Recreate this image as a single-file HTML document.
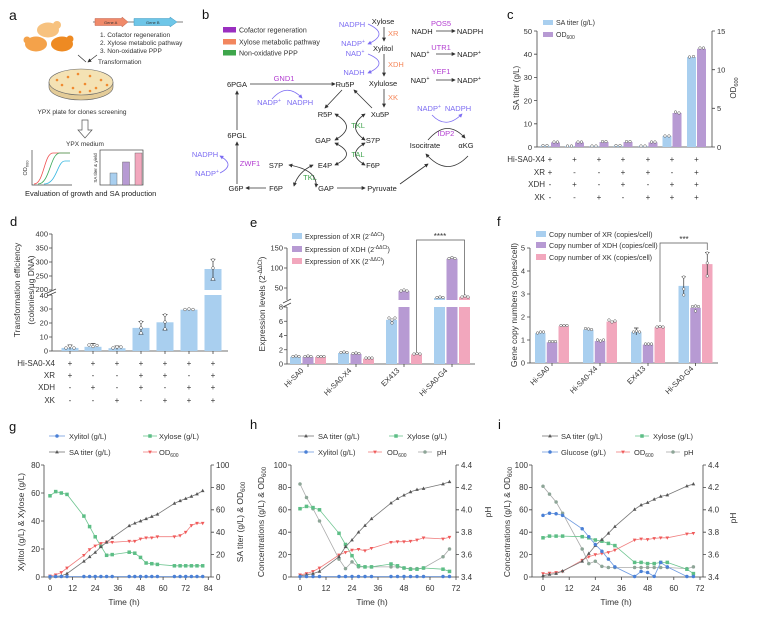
<!DOCTYPE html>
<html><head><meta charset="utf-8"><style>
html,body{margin:0;padding:0;background:#fff;}
svg{display:block;font-family:"Liberation Sans",Arial,sans-serif;}
</style></head><body>
<svg width="758" height="622" viewBox="0 0 758 622" xmlns="http://www.w3.org/2000/svg">
<defs>
<marker id="ah" viewBox="0 0 6 6" refX="5" refY="3" markerWidth="4" markerHeight="4" markerUnits="userSpaceOnUse" orient="auto-start-reverse"><path d="M0,0L6,3L0,6Z" fill="#333"/></marker>
<marker id="ahb" viewBox="0 0 6 6" refX="5" refY="3" markerWidth="4" markerHeight="4" markerUnits="userSpaceOnUse" orient="auto"><path d="M0,0L6,3L0,6Z" fill="#7c6cf2"/></marker>
<marker id="mTri" viewBox="-3 -3 6 6" markerWidth="5" markerHeight="5" markerUnits="userSpaceOnUse"><path d="M0,-2.4L2.2,1.6L-2.2,1.6Z" fill="#555"/></marker>
<marker id="mSq" viewBox="-3 -3 6 6" markerWidth="5" markerHeight="5" markerUnits="userSpaceOnUse"><rect x="-2.1" y="-2.1" width="4.2" height="4.2" fill="#5dbe86"/></marker>
<marker id="mCi" viewBox="-3 -3 6 6" markerWidth="5" markerHeight="5" markerUnits="userSpaceOnUse"><circle r="2.1" fill="#4a80d6"/></marker>
<marker id="mIt" viewBox="-3 -3 6 6" markerWidth="5" markerHeight="5" markerUnits="userSpaceOnUse"><path d="M0,2.4L2.2,-1.6L-2.2,-1.6Z" fill="#f05a5a"/></marker>
<marker id="mPh" viewBox="-3 -3 6 6" markerWidth="5" markerHeight="5" markerUnits="userSpaceOnUse"><circle r="2.1" fill="#8da597"/></marker>
</defs>

<!-- ================= PANEL A ================= -->
<text x="9" y="20" font-size="14" fill="#111">a</text>
<line x1="93" y1="22" x2="183" y2="22" stroke="#555" stroke-width="0.8"/>
<path d="M95,18.5H122V17L128,22L122,27V25.5H95Z" fill="#f08a6a" stroke="#c0604a" stroke-width="0.5"/>
<path d="M134,18.5H170V17L177,22L170,27V25.5H134Z" fill="#6ec6e8" stroke="#3d98c0" stroke-width="0.5"/>
<text x="104" y="24" font-size="4" fill="#333">Gene A</text>
<text x="146" y="24" font-size="4" fill="#333">Gene B</text>
<g font-size="6.5" fill="#333">
<text x="100" y="37">1. Cofactor regeneration</text>
<text x="100" y="45">2. Xylose metabolic pathway</text>
<text x="100" y="53">3. Non-oxidative PPP</text>
<text x="98" y="64">Transformation</text>
</g>
<ellipse cx="48" cy="30" rx="11" ry="7.5" fill="#f7c27f"/>
<circle cx="57" cy="25" r="4" fill="#f7c27f"/>
<ellipse cx="36" cy="44" rx="11" ry="7.5" fill="#f4a24a"/>
<circle cx="27" cy="40" r="3.5" fill="#f4a24a"/>
<ellipse cx="62" cy="44" rx="11" ry="7.5" fill="#ee8a22"/>
<circle cx="70" cy="39" r="3.5" fill="#ee8a22"/>
<path d="M78,55L86,62M97,55L88,62" stroke="#333" stroke-width="0.7" marker-end="url(#ah)"/>
<path d="M49,82v5a32,13 0 0,0 64,0v-5" fill="#e4cc98" stroke="#666" stroke-width="0.6"/>
<ellipse cx="81" cy="82" rx="32" ry="13" fill="#f4e2b4" stroke="#666" stroke-width="0.6"/>
<g fill="#f08a30">
<circle cx="68" cy="77" r="1.3"/><circle cx="78" cy="74" r="1.3"/><circle cx="90" cy="76" r="1.3"/><circle cx="101" cy="80" r="1.3"/><circle cx="62" cy="85" r="1.3"/><circle cx="73" cy="88" r="1.3"/><circle cx="85" cy="84" r="1.3"/><circle cx="96" cy="88" r="1.3"/><circle cx="80" cy="92" r="1.3"/><circle cx="107" cy="85" r="1.3"/><circle cx="57" cy="80" r="1.3"/><circle cx="90" cy="91" r="1.3"/>
</g>
<text x="82" y="114" font-size="6.5" fill="#333" text-anchor="middle">YPX plate for clones screening</text>
<path d="M82,120H88V130H92L85,138L78,130H82Z" fill="#fff" stroke="#555" stroke-width="0.7"/>
<text x="85" y="146" font-size="6.5" fill="#333" text-anchor="middle">YPX medium</text>
<path d="M32,150V185H72" fill="none" stroke="#444" stroke-width="0.7"/>
<path d="M34,184C44,184 44,153 53,153H70" fill="none" stroke="#f05050" stroke-width="0.8"/>
<path d="M38,184C50,184 50,153 60,153H70" fill="none" stroke="#3caa5a" stroke-width="0.8"/>
<path d="M44,184C57,184 57,161 65,161H70" fill="none" stroke="#35b6e0" stroke-width="0.8"/>
<text transform="translate(27,168) rotate(-90)" font-size="5.5" fill="#333" text-anchor="middle">OD<tspan font-size="4" dy="1.5">600</tspan></text>
<rect x="100" y="150" width="43" height="35" fill="none" stroke="#444" stroke-width="0.7"/>
<rect x="110" y="173" width="7" height="12" fill="#a9cfef" stroke="#555" stroke-width="0.4"/>
<rect x="122.5" y="162" width="7" height="23" fill="#b79ad3" stroke="#555" stroke-width="0.4"/>
<rect x="135" y="153" width="7" height="32" fill="#f2a7bd" stroke="#555" stroke-width="0.4"/>
<text transform="translate(97,168) rotate(-90)" font-size="4.5" fill="#333" text-anchor="middle">SA titer &amp; yield</text>
<text x="25" y="196" font-size="7.5" fill="#222">Evaluation of growth and SA production</text>

<!-- ================= PANEL B ================= -->
<text x="202" y="19" font-size="13" fill="#111">b</text>
<rect x="223" y="27" width="13" height="5.5" fill="#9a2fc0"/>
<rect x="223" y="39" width="13" height="5.5" fill="#f2865e"/>
<rect x="223" y="50" width="13" height="5.5" fill="#3ea64b"/>
<g font-size="7" fill="#333">
<text x="239" y="32.5">Cofactor regeneration</text>
<text x="239" y="44.5">Xylose metabolic pathway</text>
<text x="239" y="55.5">Non-oxidative PPP</text>
</g>
<g font-size="7.5" fill="#222" text-anchor="middle">
<text x="383" y="24">Xylose</text>
<text x="383" y="51">Xylitol</text>
<text x="383" y="86">Xylulose</text>
<text x="380" y="117">Xu5P</text>
<text x="345" y="87">Ru5P</text>
<text x="237" y="87">6PGA</text>
<text x="325" y="117">R5P</text>
<text x="323" y="143">GAP</text>
<text x="373" y="143">S7P</text>
<text x="325" y="168">E4P</text>
<text x="373" y="168">F6P</text>
<text x="276" y="168">S7P</text>
<text x="276" y="191">F6P</text>
<text x="236" y="191">G6P</text>
<text x="326" y="191">GAP</text>
<text x="382" y="191">Pyruvate</text>
<text x="237" y="138">6PGL</text>
<text x="425" y="148">Isocitrate</text>
<text x="466" y="148">αKG</text>
<text x="422" y="34">NADH</text>
<text x="470" y="34">NADPH</text>
<text x="420" y="57">NAD<tspan font-size="5" dy="-3">+</tspan></text>
<text x="469" y="57">NADP<tspan font-size="5" dy="-3">+</tspan></text>
<text x="420" y="83">NAD<tspan font-size="5" dy="-3">+</tspan></text>
<text x="469" y="83">NADP<tspan font-size="5" dy="-3">+</tspan></text>
</g>
<g font-size="7.5" fill="#7c6cf2" text-anchor="middle">
<text x="352" y="27">NADPH</text>
<text x="353" y="46">NADP<tspan font-size="5" dy="-3">+</tspan></text>
<text x="355" y="56">NAD<tspan font-size="5" dy="-3">+</tspan></text>
<text x="354" y="75">NADH</text>
<text x="269" y="105">NADP<tspan font-size="5" dy="-3">+</tspan></text>
<text x="300" y="105">NADPH</text>
<text x="205" y="157">NADPH</text>
<text x="207" y="176">NADP<tspan font-size="5" dy="-3">+</tspan></text>
<text x="429" y="111">NADP<tspan font-size="5" dy="-3">+</tspan></text>
<text x="458" y="111">NADPH</text>
</g>
<g font-size="7.5" fill="#f5875a">
<text x="388" y="36">XR</text>
<text x="388" y="67">XDH</text>
<text x="388" y="100">XK</text>
</g>
<g font-size="7.5" fill="#b23cd0" text-anchor="middle">
<text x="441" y="26">POS5</text>
<text x="441" y="50">UTR1</text>
<text x="441" y="74">YEF1</text>
<text x="284" y="81">GND1</text>
<text x="250" y="166">ZWF1</text>
<text x="446" y="136">IDP2</text>
</g>
<g font-size="7.5" fill="#3fa34d" text-anchor="middle">
<text x="358" y="128">TKL</text>
<text x="358" y="157">TAL</text>
<text x="310" y="180">TKL</text>
</g>
<g stroke="#333" stroke-width="0.8" fill="none" marker-end="url(#ah)">
<path d="M384,27V41"/><path d="M384,54V76"/><path d="M384,89V107"/>
<path d="M436,31H455"/><path d="M436,54H455"/><path d="M436,80H455"/>
<path d="M250,84H335"/>
<path d="M342,90L325,108"/><path d="M372,108L354,90"/>
<path d="M237,184V142"/><path d="M237,130V91"/>
<path d="M266,188H246"/><path d="M337,188H365"/>
<path d="M400,184L428,164"/>
<path d="M428,140Q447,118 465,138"/>
<path d="M468,156Q447,178 426,154"/>
</g>
<g stroke="#333" stroke-width="0.8" fill="none" marker-start="url(#ah)" marker-end="url(#ah)">
<path d="M335,114Q358,127 335,140"/>
<path d="M365,114Q346,127 365,140"/>
<path d="M335,143Q358,154 335,165"/>
<path d="M365,143Q346,154 365,165"/>
<path d="M289,165Q318,170 316,187"/>
<path d="M313,165Q298,172 294,186"/>
</g>
<g stroke="#7c6cf2" stroke-width="0.8" fill="none" marker-end="url(#ahb)">
<path d="M368,24Q390,34 368,44"/>
<path d="M368,54Q390,63 368,73"/>
<path d="M272,99Q287,82 302,98"/>
<path d="M220,173Q236,165 220,156"/>
<path d="M432,115Q446,130 462,114"/>
</g>

<!-- ================= PANEL C ================= -->
<text x="507" y="19" font-size="13" fill="#111">c</text>
<rect x="543" y="20" width="10" height="5" fill="#a9cfef"/>
<rect x="543" y="32" width="10" height="5" fill="#b79ad3"/>
<text x="556" y="25" font-size="7" fill="#333">SA titer (g/L)</text>
<text x="556" y="37" font-size="7" fill="#333">OD<tspan font-size="5" dy="2">600</tspan></text>
<g stroke="#444" stroke-width="0.8" fill="none">
<path d="M537,31V147H712V31"/>
<path d="M534,147H537M534,123.8H537M534,100.6H537M534,77.4H537M534,54.2H537M534,31H537"/>
<path d="M712,147H715M712,108.3H715M712,69.7H715M712,31H715"/>
</g>
<g font-size="7.5" fill="#333" text-anchor="end">
<text x="532" y="150">0</text><text x="532" y="126.5">10</text><text x="532" y="103.3">20</text><text x="532" y="80">30</text><text x="532" y="57">40</text><text x="532" y="34">50</text>
</g>
<g font-size="7.5" fill="#333">
<text x="717" y="150">0</text><text x="717" y="111">5</text><text x="717" y="72.5">10</text><text x="717" y="34">15</text>
</g>
<text transform="translate(519,88) rotate(-90)" font-size="8" fill="#333" text-anchor="middle">SA titer (g/L)</text>
<text transform="translate(736,88) rotate(-90)" font-size="8" fill="#333" text-anchor="middle">OD<tspan font-size="5.5" dy="2">600</tspan></text>
<g fill="#a9cfef">
<rect x="540.5" y="145.8" width="9" height="1.2"/><rect x="565" y="146.1" width="9" height="0.9"/><rect x="589.5" y="146.1" width="9" height="0.9"/><rect x="613.5" y="145.8" width="9" height="1.2"/><rect x="638.5" y="146.1" width="9" height="0.9"/><rect x="662.5" y="136.1" width="9" height="10.9"/><rect x="687" y="57" width="9" height="90"/>
</g>
<g fill="#b79ad3">
<rect x="551" y="142.4" width="9" height="4.6"/><rect x="575" y="142.4" width="9" height="4.6"/><rect x="599.5" y="142" width="9" height="5"/><rect x="623.5" y="142" width="9" height="5"/><rect x="648.5" y="142.4" width="9" height="4.6"/><rect x="672.5" y="113" width="9" height="34"/><rect x="697" y="48.8" width="9" height="98.2"/>
</g>
<g fill="#fff" stroke="#555" stroke-width="0.5">
<circle cx="543" cy="145.5" r="1.3"/><circle cx="547" cy="145.5" r="1.3"/><circle cx="554" cy="142" r="1.3"/><circle cx="557.5" cy="142" r="1.3"/>
<circle cx="567.5" cy="146" r="1.3"/><circle cx="571.5" cy="146" r="1.3"/><circle cx="578" cy="142" r="1.3"/><circle cx="581.5" cy="142" r="1.3"/>
<circle cx="592" cy="146" r="1.3"/><circle cx="596" cy="146" r="1.3"/><circle cx="602.5" cy="141.5" r="1.3"/><circle cx="606" cy="141.5" r="1.3"/>
<circle cx="616" cy="145.5" r="1.3"/><circle cx="620" cy="145.5" r="1.3"/><circle cx="626.5" cy="141.5" r="1.3"/><circle cx="630" cy="141.5" r="1.3"/>
<circle cx="641" cy="146" r="1.3"/><circle cx="645" cy="146" r="1.3"/><circle cx="651.5" cy="142" r="1.3"/><circle cx="655" cy="142" r="1.3"/>
<circle cx="665" cy="136" r="1.3"/><circle cx="669" cy="136" r="1.3"/><circle cx="675.5" cy="112" r="1.3"/><circle cx="679" cy="113" r="1.3"/>
<circle cx="689.5" cy="57" r="1.3"/><circle cx="693.5" cy="56.5" r="1.3"/><circle cx="700" cy="48" r="1.3"/><circle cx="703.5" cy="48" r="1.3"/>
</g>
<g font-size="8" fill="#333" text-anchor="end">
<text x="545" y="162">Hi-SA0-X4</text><text x="545" y="175">XR</text><text x="545" y="187">XDH</text><text x="545" y="200">XK</text>
</g>
<g font-size="8" fill="#333" text-anchor="middle">
<text x="550" y="162">+</text><text x="574.5" y="162">+</text><text x="599" y="162">+</text><text x="623" y="162">+</text><text x="648" y="162">+</text><text x="672" y="162">+</text><text x="696.5" y="162">+</text>
<text x="550" y="175">+</text><text x="574.5" y="175">-</text><text x="599" y="175">-</text><text x="623" y="175">+</text><text x="648" y="175">+</text><text x="672" y="175">-</text><text x="696.5" y="175">+</text>
<text x="550" y="187">-</text><text x="574.5" y="187">+</text><text x="599" y="187">-</text><text x="623" y="187">+</text><text x="648" y="187">-</text><text x="672" y="187">+</text><text x="696.5" y="187">+</text>
<text x="550" y="200">-</text><text x="574.5" y="200">-</text><text x="599" y="200">+</text><text x="623" y="200">-</text><text x="648" y="200">+</text><text x="672" y="200">+</text><text x="696.5" y="200">+</text>
</g>

<!-- ================= PANEL D ================= -->
<text x="10" y="226" font-size="13" fill="#111">d</text>
<g stroke="#444" stroke-width="0.8" fill="none">
<path d="M52,234V290"/><path d="M52,295V351H228"/>
<path d="M49,234H52M49,248H52M49,262H52M49,276H52M49,290H52"/>
<path d="M49,295H52M49,309H52M49,323H52M49,337H52M49,351H52"/>
<path d="M70,351v3M93,351v3M117,351v3M141,351v3M165,351v3M189,351v3M213,351v3"/>
</g>
<g font-size="7.5" fill="#333" text-anchor="end">
<text x="48" y="236.5">400</text><text x="48" y="250.5">350</text><text x="48" y="264.5">300</text><text x="48" y="278.5">250</text><text x="48" y="292">200</text>
<text x="48" y="298">40</text><text x="48" y="311.5">30</text><text x="48" y="325.5">20</text><text x="48" y="339.5">10</text><text x="48" y="353.5">0</text>
</g>
<path d="M47,293L56,289M47,296L56,292" stroke="#444" stroke-width="0.8"/>
<text transform="translate(20,290) rotate(-90)" font-size="8.5" fill="#333" text-anchor="middle">Transformation efficiency</text>
<text transform="translate(34,290) rotate(-90)" font-size="8.5" fill="#333" text-anchor="middle">(colonies/μg DNA)</text>
<g fill="#a9cfef">
<rect x="61.5" y="347.9" width="17" height="3.1"/><rect x="84.5" y="346.8" width="17" height="4.2"/><rect x="108.5" y="348.2" width="17" height="2.8"/><rect x="132.5" y="327.9" width="17" height="23.1"/><rect x="156.5" y="322.3" width="17" height="28.7"/><rect x="180.5" y="309.7" width="17" height="41.3"/><rect x="204.5" y="295" width="17" height="56"/><rect x="204.5" y="269" width="17" height="21"/>
</g>
<g stroke="#333" stroke-width="0.7" fill="none">
<path d="M141,334.2V321.6M138.5,321.6h5M138.5,334.2h5"/>
<path d="M165,330V314.6M162.5,314.6h5M162.5,330h5"/>
<path d="M213,280.2V259.2M210.5,259.2h5M210.5,280.2h5"/>
<path d="M70,349.5V345M67.5,345h5"/><path d="M93,348V343.5M90.5,343.5h5"/><path d="M117,349.5V346M114.5,346h5"/>
</g>
<g fill="#fff" stroke="#555" stroke-width="0.5">
<circle cx="66" cy="348" r="1.4"/><circle cx="70" cy="346" r="1.4"/><circle cx="74" cy="348" r="1.4"/>
<circle cx="89" cy="345" r="1.4"/><circle cx="93" cy="346.5" r="1.4"/><circle cx="97" cy="345.5" r="1.4"/>
<circle cx="113" cy="348" r="1.4"/><circle cx="117" cy="347" r="1.4"/><circle cx="121" cy="347" r="1.4"/>
<circle cx="141" cy="322" r="1.4"/><circle cx="141" cy="328" r="1.4"/><circle cx="141" cy="333" r="1.4"/>
<circle cx="165" cy="315" r="1.4"/><circle cx="165" cy="322" r="1.4"/><circle cx="165" cy="329" r="1.4"/>
<circle cx="185" cy="309.5" r="1.4"/><circle cx="189" cy="309" r="1.4"/><circle cx="193" cy="309.5" r="1.4"/>
<circle cx="213" cy="260" r="1.4"/><circle cx="213" cy="268" r="1.4"/><circle cx="213" cy="279" r="1.4"/>
</g>
<g font-size="8" fill="#333" text-anchor="end">
<text x="55" y="366">Hi-SA0-X4</text><text x="55" y="378">XR</text><text x="55" y="390">XDH</text><text x="55" y="403">XK</text>
</g>
<g font-size="8" fill="#333" text-anchor="middle">
<text x="70" y="366">+</text><text x="93" y="366">+</text><text x="117" y="366">+</text><text x="141" y="366">+</text><text x="165" y="366">+</text><text x="189" y="366">+</text><text x="213" y="366">+</text>
<text x="70" y="378">+</text><text x="93" y="378">-</text><text x="117" y="378">-</text><text x="141" y="378">+</text><text x="165" y="378">+</text><text x="189" y="378">-</text><text x="213" y="378">+</text>
<text x="70" y="390">-</text><text x="93" y="390">+</text><text x="117" y="390">-</text><text x="141" y="390">+</text><text x="165" y="390">-</text><text x="189" y="390">+</text><text x="213" y="390">+</text>
<text x="70" y="403">-</text><text x="93" y="403">-</text><text x="117" y="403">+</text><text x="141" y="403">-</text><text x="165" y="403">+</text><text x="189" y="403">+</text><text x="213" y="403">+</text>
</g>

<!-- ================= PANEL E ================= -->
<text x="250" y="227" font-size="13" fill="#111">e</text>
<rect x="292" y="233" width="10" height="6" fill="#a9cfef"/>
<rect x="292" y="246" width="10" height="6" fill="#b79ad3"/>
<rect x="292" y="258" width="10" height="6" fill="#f2a7bd"/>
<g font-size="7.2" fill="#333">
<text x="305" y="239">Expression of XR (2<tspan font-size="5" dy="-3">-ΔΔCt</tspan><tspan dy="3">)</tspan></text>
<text x="305" y="252">Expression of XDH (2<tspan font-size="5" dy="-3">-ΔΔCt</tspan><tspan dy="3">)</tspan></text>
<text x="305" y="264">Expression of XK (2<tspan font-size="5" dy="-3">-ΔΔCt</tspan><tspan dy="3">)</tspan></text>
</g>
<g stroke="#444" stroke-width="0.8" fill="none">
<path d="M287,248V300"/><path d="M287,307V364H475"/>
<path d="M284,248H287M284,268H287M284,288H287"/>
<path d="M284,307H287M284,321.25H287M284,335.5H287M284,349.75H287M284,364H287"/>
<path d="M308,364v3M356,364v3M404,364v3M452,364v3"/>
</g>
<path d="M283,303L291,299M283,307L291,303" stroke="#444" stroke-width="0.8"/>
<g font-size="7.5" fill="#333" text-anchor="end">
<text x="283" y="250.5">150</text><text x="283" y="270.5">100</text><text x="283" y="290.5">50</text>
<text x="283" y="309.5">8</text><text x="283" y="324">6</text><text x="283" y="338">4</text><text x="283" y="352.5">2</text><text x="283" y="366.5">0</text>
</g>
<text transform="translate(265,304) rotate(-90)" font-size="8.5" fill="#333" text-anchor="middle">Expression levels (2<tspan font-size="6" dy="-3">-ΔΔCt</tspan><tspan dy="3">)</tspan></text>
<g fill="#a9cfef">
<rect x="290" y="356.9" width="11" height="7.1"/><rect x="338" y="353" width="11" height="11"/><rect x="386" y="319.8" width="11" height="44.2"/><rect x="434" y="307" width="11" height="57"/><rect x="434" y="298" width="11" height="2"/>
</g>
<g fill="#b79ad3">
<rect x="302.5" y="356.9" width="11" height="7.1"/><rect x="350.5" y="354" width="11" height="10"/><rect x="398.5" y="307" width="11" height="57"/><rect x="398.5" y="291.2" width="11" height="8.8"/><rect x="446.5" y="307" width="11" height="57"/><rect x="446.5" y="258.8" width="11" height="41.2"/>
</g>
<g fill="#f2a7bd">
<rect x="315" y="356.9" width="11" height="7.1"/><rect x="363" y="358.7" width="11" height="5.3"/><rect x="411" y="354.4" width="11" height="9.6"/><rect x="459" y="307" width="11" height="57"/><rect x="459" y="297.2" width="11" height="2.8"/>
</g>
<g fill="#fff" stroke="#555" stroke-width="0.5">
<circle cx="293" cy="356.5" r="1.3"/><circle cx="296" cy="356" r="1.3"/><circle cx="299" cy="356.5" r="1.3"/>
<circle cx="305" cy="356.5" r="1.3"/><circle cx="308" cy="356" r="1.3"/><circle cx="311" cy="356.5" r="1.3"/>
<circle cx="318" cy="356.5" r="1.3"/><circle cx="321" cy="356.5" r="1.3"/><circle cx="324" cy="356.5" r="1.3"/>
<circle cx="341" cy="352.5" r="1.3"/><circle cx="344" cy="352" r="1.3"/><circle cx="347" cy="352.5" r="1.3"/>
<circle cx="353" cy="353.5" r="1.3"/><circle cx="356" cy="353" r="1.3"/><circle cx="359" cy="353.5" r="1.3"/>
<circle cx="366" cy="358" r="1.3"/><circle cx="369" cy="358" r="1.3"/><circle cx="372" cy="358" r="1.3"/>
<circle cx="389" cy="318" r="1.3"/><circle cx="392" cy="320" r="1.3"/><circle cx="395" cy="318" r="1.3"/><circle cx="392" cy="323" r="1.3"/>
<circle cx="401" cy="291" r="1.3"/><circle cx="404" cy="290" r="1.3"/><circle cx="407" cy="291" r="1.3"/>
<circle cx="414" cy="354" r="1.3"/><circle cx="417" cy="353.5" r="1.3"/><circle cx="420" cy="354" r="1.3"/>
<circle cx="437" cy="297.5" r="1.3"/><circle cx="440" cy="297" r="1.3"/><circle cx="443" cy="297.5" r="1.3"/>
<circle cx="449" cy="258.5" r="1.3"/><circle cx="452" cy="257.5" r="1.3"/><circle cx="455" cy="258.5" r="1.3"/>
<circle cx="462" cy="297" r="1.3"/><circle cx="465" cy="296" r="1.3"/><circle cx="468" cy="297" r="1.3"/>
</g>
<path d="M416.5,352V240H464.5V295" fill="none" stroke="#555" stroke-width="0.7"/>
<text x="440" y="239" font-size="8" fill="#333" text-anchor="middle">****</text>
<g font-size="7.5" fill="#333" text-anchor="end">
<text transform="translate(304,371) rotate(-45)">Hi-SA0</text>
<text transform="translate(352,371) rotate(-45)">Hi-SA0-X4</text>
<text transform="translate(400,371) rotate(-45)">EX413</text>
<text transform="translate(448,371) rotate(-45)">Hi-SA0-G4</text>
</g>

<!-- ================= PANEL F ================= -->
<text x="497" y="226" font-size="13" fill="#111">f</text>
<rect x="536" y="231" width="10" height="6" fill="#a9cfef"/>
<rect x="536" y="242" width="10" height="6" fill="#b79ad3"/>
<rect x="536" y="254" width="10" height="6" fill="#f2a7bd"/>
<g font-size="7.2" fill="#333">
<text x="549" y="237">Copy number of XR (copies/cell)</text>
<text x="549" y="248">Copy number of XDH (copies/cell)</text>
<text x="549" y="260">Copy number of XK (copies/cell)</text>
</g>
<g stroke="#444" stroke-width="0.8" fill="none">
<path d="M530,248V363H718"/>
<path d="M527,248H530M527,271H530M527,294H530M527,317H530M527,340H530M527,363H530"/>
<path d="M552,363v3M600,363v3M648,363v3M695.5,363v3"/>
</g>
<g font-size="7.5" fill="#333" text-anchor="end">
<text x="525" y="250.5">5</text><text x="525" y="273.5">4</text><text x="525" y="296.5">3</text><text x="525" y="319.5">2</text><text x="525" y="342.5">1</text><text x="525" y="365.5">0</text>
</g>
<text transform="translate(517,305) rotate(-90)" font-size="8.5" fill="#333" text-anchor="middle">Gene copy numbers (copies/cell)</text>
<g fill="#a9cfef">
<rect x="535" y="333.1" width="10.5" height="29.9"/><rect x="583" y="329.6" width="10.5" height="33.4"/><rect x="631" y="331.9" width="10.5" height="31.1"/><rect x="678.5" y="285.9" width="10.5" height="77.1"/>
</g>
<g fill="#b79ad3">
<rect x="546.75" y="342.3" width="10.5" height="20.7"/><rect x="594.75" y="341.1" width="10.5" height="21.9"/><rect x="642.75" y="344.6" width="10.5" height="18.4"/><rect x="690.25" y="307.8" width="10.5" height="55.2"/>
</g>
<g fill="#f2a7bd">
<rect x="558.5" y="326.2" width="10.5" height="36.8"/><rect x="606.5" y="321.6" width="10.5" height="41.4"/><rect x="654.5" y="327.3" width="10.5" height="35.7"/><rect x="702" y="264.1" width="10.5" height="98.9"/>
</g>
<g stroke="#333" stroke-width="0.7" fill="none">
<path d="M683.75,296.3V276.8M681.5,276.8h4.5"/>
<path d="M707.25,276.8V252.6M705,252.6h4.5"/>
<path d="M636.25,335V328M634,328h4.5"/>
</g>
<g fill="#fff" stroke="#555" stroke-width="0.5">
<circle cx="537.5" cy="333" r="1.3"/><circle cx="540.5" cy="332" r="1.3"/><circle cx="543.5" cy="332" r="1.3"/>
<circle cx="549.5" cy="341.5" r="1.3"/><circle cx="552.5" cy="341.5" r="1.3"/><circle cx="555.5" cy="341.5" r="1.3"/>
<circle cx="561" cy="325.5" r="1.3"/><circle cx="564" cy="325.5" r="1.3"/><circle cx="567" cy="325.5" r="1.3"/>
<circle cx="585.5" cy="328.5" r="1.3"/><circle cx="588.5" cy="329" r="1.3"/><circle cx="591.5" cy="329.5" r="1.3"/>
<circle cx="597.5" cy="340" r="1.3"/><circle cx="600.5" cy="341" r="1.3"/><circle cx="603.5" cy="340" r="1.3"/>
<circle cx="609" cy="320" r="1.3"/><circle cx="612" cy="322" r="1.3"/><circle cx="615" cy="321" r="1.3"/>
<circle cx="633.5" cy="332" r="1.3"/><circle cx="636.5" cy="331" r="1.3"/><circle cx="639.5" cy="332" r="1.3"/>
<circle cx="645.5" cy="344" r="1.3"/><circle cx="648.5" cy="344" r="1.3"/><circle cx="651.5" cy="344" r="1.3"/>
<circle cx="657" cy="327" r="1.3"/><circle cx="660" cy="326.5" r="1.3"/><circle cx="663" cy="327" r="1.3"/>
<circle cx="683.75" cy="277" r="1.3"/><circle cx="683.75" cy="289" r="1.3"/><circle cx="683.75" cy="295" r="1.3"/>
<circle cx="692.5" cy="306.5" r="1.3"/><circle cx="695.5" cy="306" r="1.3"/><circle cx="698.5" cy="306.5" r="1.3"/><circle cx="695.5" cy="311" r="1.3"/>
<circle cx="707.25" cy="253" r="1.3"/><circle cx="707.25" cy="263" r="1.3"/><circle cx="707.25" cy="276" r="1.3"/>
</g>
<path d="M660,322V243H707.25V250" fill="none" stroke="#555" stroke-width="0.7"/>
<text x="684" y="242" font-size="8" fill="#333" text-anchor="middle">***</text>
<g font-size="7.5" fill="#333" text-anchor="end">
<text transform="translate(550,369) rotate(-45)">Hi-SA0</text>
<text transform="translate(598,369) rotate(-45)">Hi-SA0-X4</text>
<text transform="translate(646,369) rotate(-45)">EX413</text>
<text transform="translate(694,369) rotate(-45)">Hi-SA0-G4</text>
</g>

<!-- ================= PANEL G ================= -->
<text x="9" y="431" font-size="13" fill="#111">g</text>
<g font-size="7.5" fill="#333">
<text x="69" y="439">Xylitol (g/L)</text>
<text x="159" y="439">Xylose (g/L)</text>
<text x="69" y="455">SA titer (g/L)</text>
<text x="159" y="455">OD<tspan font-size="5" dy="2">600</tspan></text>
</g>
<path d="M49,436L57,436L65,436" stroke="#6f9be0" stroke-width="0.8" fill="none" marker-mid="url(#mCi)"/>
<path d="M143,436L150,436L157,436" stroke="#6cc48f" stroke-width="0.8" fill="none" marker-mid="url(#mSq)"/>
<path d="M49,452L57,452L65,452" stroke="#777" stroke-width="0.8" fill="none" marker-mid="url(#mTri)"/>
<path d="M143,452L150,452L157,452" stroke="#f08080" stroke-width="0.8" fill="none" marker-mid="url(#mIt)"/>
<g stroke="#444" stroke-width="0.8" fill="none">
<path d="M44,465V577H211V465"/>
<path d="M41,577H44M41,549H44M41,521H44M41,493H44M41,465H44"/>
<path d="M211,577H214M211,554.6H214M211,532.2H214M211,509.8H214M211,487.4H214M211,465H214"/>
<path d="M50,577v3M72.6,577v3M95.2,577v3M117.9,577v3M140.5,577v3M163.1,577v3M185.7,577v3M208.3,577v3"/>
</g>
<g font-size="8" fill="#333" text-anchor="end">
<text x="40" y="580">0</text><text x="40" y="552">20</text><text x="40" y="524">40</text><text x="40" y="496">60</text><text x="40" y="468">80</text>
</g>
<g font-size="8" fill="#333">
<text x="216" y="580">0</text><text x="216" y="557.5">20</text><text x="216" y="535">40</text><text x="216" y="512.5">60</text><text x="216" y="490">80</text><text x="216" y="468">100</text>
</g>
<g font-size="8" fill="#333" text-anchor="middle">
<text x="50" y="591">0</text><text x="72.6" y="591">12</text><text x="95.2" y="591">24</text><text x="117.9" y="591">36</text><text x="140.5" y="591">48</text><text x="163.1" y="591">60</text><text x="185.7" y="591">72</text><text x="208.3" y="591">84</text>
<text x="124" y="605" font-size="8.5">Time (h)</text>
</g>
<text transform="translate(24,522) rotate(-90)" font-size="8.5" fill="#333" text-anchor="middle">Xylitol (g/L) &amp; Xylose (g/L)</text>
<text transform="translate(243,522) rotate(-90)" font-size="8.5" fill="#333" text-anchor="middle">SA titer (g/L) &amp; OD<tspan font-size="6" dy="2">600</tspan></text>
<polyline fill="none" stroke="#6cc48f" stroke-width="0.8" marker-start="url(#mSq)" marker-mid="url(#mSq)" marker-end="url(#mSq)" points="50,495.8 55.7,491.6 61.3,493 67,494.4 83.9,516.1 89.6,526.6 95.2,536.8 100.9,546.2 106.6,555.3 112.2,554.6 129.2,552.2 134.8,553.2 140.5,557.4 146.1,563 151.8,563.7 157.4,564.4 174.4,565.8 180.1,565.8 185.7,565.8 191.4,565.8 197,565.8 202.7,565.8"/>
<polyline fill="none" stroke="#f08080" stroke-width="0.8" marker-start="url(#mIt)" marker-mid="url(#mIt)" marker-end="url(#mIt)" points="50,575.9 55.7,574.8 61.3,572.5 67,568 83.9,555.3 89.6,549.6 95.2,545.9 100.9,543.4 106.6,542 112.2,542.3 129.2,541.2 134.8,541.2 140.5,538.9 146.1,537.8 151.8,537.8 157.4,536.7 174.4,536.7 180.1,535.6 185.7,532.2 191.4,525.5 197,523.2 202.7,523.2"/>
<polyline fill="none" stroke="#777" stroke-width="0.8" marker-start="url(#mTri)" marker-mid="url(#mTri)" marker-end="url(#mTri)" points="50,577 55.7,576.4 61.3,575.9 67,573.6 83.9,561.3 89.6,556.8 95.2,552.4 100.9,546.8 106.6,542.3 112.2,537.8 129.2,525.8 134.8,523.2 140.5,521 146.1,518.8 151.8,516.5 157.4,514.3 174.4,503.4 180.1,500.8 185.7,498.6 191.4,496.4 197,494.1 202.7,490.8"/>
<polyline fill="none" stroke="#6f9be0" stroke-width="0.8" marker-start="url(#mCi)" marker-mid="url(#mCi)" marker-end="url(#mCi)" points="50,576.5 55.7,576.5 61.3,576.5 67,576.5 83.9,576.5 89.6,576.5 95.2,576.5 100.9,576.5 106.6,576.5 112.2,576.5 129.2,576.5 134.8,576.5 140.5,576.5 146.1,576.5 151.8,576.5 157.4,576.5 174.4,576.5 180.1,576.5 185.7,576.5 191.4,576.5 197,576.5 202.7,576.5"/>

<!-- ================= PANEL H ================= -->
<text x="250" y="429" font-size="13" fill="#111">h</text>
<g font-size="7.5" fill="#333">
<text x="318" y="439">SA titer (g/L)</text>
<text x="407" y="439">Xylose (g/L)</text>
<text x="318" y="455">Xylitol (g/L)</text>
<text x="387" y="455">OD<tspan font-size="5" dy="2">600</tspan></text>
<text x="437" y="455">pH</text>
</g>
<path d="M298,436L306,436L314,436" stroke="#777" stroke-width="0.8" fill="none" marker-mid="url(#mTri)"/>
<path d="M389,436L396,436L403,436" stroke="#6cc48f" stroke-width="0.8" fill="none" marker-mid="url(#mSq)"/>
<path d="M298,452L306,452L314,452" stroke="#6f9be0" stroke-width="0.8" fill="none" marker-mid="url(#mCi)"/>
<path d="M368,452L375,452L382,452" stroke="#f08080" stroke-width="0.8" fill="none" marker-mid="url(#mIt)"/>
<path d="M418,452L425,452L432,452" stroke="#aaa" stroke-width="0.8" fill="none" marker-mid="url(#mPh)"/>
<g stroke="#444" stroke-width="0.8" fill="none">
<path d="M291,465V577H456V465"/>
<path d="M288,577H291M288,554.6H291M288,532.2H291M288,509.8H291M288,487.4H291M288,465H291"/>
<path d="M456,577H459M456,554.6H459M456,532.2H459M456,509.8H459M456,487.4H459M456,465H459"/>
<path d="M300,577v3M326,577v3M352,577v3M378,577v3M404,577v3M430,577v3M456,577v3"/>
</g>
<g font-size="8" fill="#333" text-anchor="end">
<text x="287" y="580">0</text><text x="287" y="557.5">20</text><text x="287" y="535">40</text><text x="287" y="512.5">60</text><text x="287" y="490">80</text><text x="287" y="468">100</text>
</g>
<g font-size="8" fill="#333">
<text x="461" y="580">3.4</text><text x="461" y="557.5">3.6</text><text x="461" y="535">3.8</text><text x="461" y="512.5">4.0</text><text x="461" y="490">4.2</text><text x="461" y="468">4.4</text>
</g>
<g font-size="8" fill="#333" text-anchor="middle">
<text x="300" y="591">0</text><text x="326" y="591">12</text><text x="352" y="591">24</text><text x="378" y="591">36</text><text x="404" y="591">48</text><text x="430" y="591">60</text><text x="456" y="591">72</text>
<text x="372" y="605" font-size="8.5">Time (h)</text>
</g>
<text transform="translate(264,522) rotate(-90)" font-size="8.5" fill="#333" text-anchor="middle">Concentrations (g/L) &amp; OD<tspan font-size="6" dy="2">600</tspan></text>
<text transform="translate(491,512) rotate(-90)" font-size="8.5" fill="#333" text-anchor="middle">pH</text>
<polyline fill="none" stroke="#aaa" stroke-width="0.8" marker-start="url(#mPh)" marker-mid="url(#mPh)" marker-end="url(#mPh)" points="300,484 306.5,497.5 313,508.7 319.5,521 339,559.1 345.5,568.6 352,561.9 358.5,566.9 365,566.9 371.5,566.9 391,566.9 397.5,566.9 404,568 410.5,568.6 417,568.6 423.5,568 443,556.8 449.5,549"/>
<polyline fill="none" stroke="#6cc48f" stroke-width="0.8" marker-start="url(#mSq)" marker-mid="url(#mSq)" marker-end="url(#mSq)" points="300,508.7 306.5,506.4 313,507.6 319.5,509.8 339,533.3 345.5,544.5 352,555.7 358.5,565.8 365,566.9 371.5,566.9 391,564 397.5,565.8 404,568 410.5,569.2 417,569.2 423.5,568 443,569.2 449.5,571.4"/>
<polyline fill="none" stroke="#f08080" stroke-width="0.8" marker-start="url(#mIt)" marker-mid="url(#mIt)" marker-end="url(#mIt)" points="300,574.8 306.5,573.6 313,571.4 319.5,568 339,555 345.5,552.4 352,550.1 358.5,549.3 365,550.7 371.5,548.3 391,542.3 397.5,541.7 404,541.7 410.5,541.2 417,540 423.5,537.8 443,538.9 449.5,537.2"/>
<polyline fill="none" stroke="#777" stroke-width="0.8" marker-start="url(#mTri)" marker-mid="url(#mTri)" marker-end="url(#mTri)" points="300,575.9 306.5,574.8 313,573.6 319.5,571.4 339,556.8 345.5,546.8 352,540 358.5,532.2 365,525.5 371.5,518.8 391,503.1 397.5,498.6 404,495.2 410.5,491.9 417,489.6 423.5,488.5 443,484 449.5,481.8"/>
<polyline fill="none" stroke="#6f9be0" stroke-width="0.8" marker-start="url(#mCi)" marker-mid="url(#mCi)" marker-end="url(#mCi)" points="300,576.5 306.5,576.5 313,576.5 319.5,576.5 339,576.5 345.5,576.5 352,576.5 358.5,576.5 365,576.5 371.5,576.5 391,576.5 397.5,576.5 404,576.5 410.5,576.5 417,576.5 423.5,576.5 443,576.5 449.5,576.5"/>

<!-- ================= PANEL I ================= -->
<text x="498" y="429" font-size="13" fill="#111">i</text>
<g font-size="7.5" fill="#333">
<text x="561" y="439">SA titer (g/L)</text>
<text x="653" y="439">Xylose (g/L)</text>
<text x="561" y="455">Glucose (g/L)</text>
<text x="634" y="455">OD<tspan font-size="5" dy="2">600</tspan></text>
<text x="684" y="455">pH</text>
</g>
<path d="M542,436L550,436L558,436" stroke="#777" stroke-width="0.8" fill="none" marker-mid="url(#mTri)"/>
<path d="M635,436L642,436L649,436" stroke="#6cc48f" stroke-width="0.8" fill="none" marker-mid="url(#mSq)"/>
<path d="M542,452L550,452L558,452" stroke="#6f9be0" stroke-width="0.8" fill="none" marker-mid="url(#mCi)"/>
<path d="M616,452L623,452L630,452" stroke="#f08080" stroke-width="0.8" fill="none" marker-mid="url(#mIt)"/>
<path d="M666,452L673,452L680,452" stroke="#aaa" stroke-width="0.8" fill="none" marker-mid="url(#mPh)"/>
<g stroke="#444" stroke-width="0.8" fill="none">
<path d="M532,465V577H703V465"/>
<path d="M529,577H532M529,554.6H532M529,532.2H532M529,509.8H532M529,487.4H532M529,465H532"/>
<path d="M703,577H706M703,554.6H706M703,532.2H706M703,509.8H706M703,487.4H706M703,465H706"/>
<path d="M543,577v3M569.2,577v3M595.3,577v3M621.5,577v3M647.6,577v3M673.8,577v3M700,577v3"/>
</g>
<g font-size="8" fill="#333" text-anchor="end">
<text x="528" y="580">0</text><text x="528" y="557.5">20</text><text x="528" y="535">40</text><text x="528" y="512.5">60</text><text x="528" y="490">80</text><text x="528" y="468">100</text>
</g>
<g font-size="8" fill="#333">
<text x="708" y="580">3.4</text><text x="708" y="557.5">3.6</text><text x="708" y="535">3.8</text><text x="708" y="512.5">4.0</text><text x="708" y="490">4.2</text><text x="708" y="468">4.4</text>
</g>
<g font-size="8" fill="#333" text-anchor="middle">
<text x="543" y="591">0</text><text x="569.2" y="591">12</text><text x="595.3" y="591">24</text><text x="621.5" y="591">36</text><text x="647.6" y="591">48</text><text x="673.8" y="591">60</text><text x="700" y="591">72</text>
<text x="616" y="605" font-size="8.5">Time (h)</text>
</g>
<text transform="translate(510,522) rotate(-90)" font-size="8.5" fill="#333" text-anchor="middle">Concentrations (g/L) &amp; OD<tspan font-size="6" dy="2">600</tspan></text>
<text transform="translate(736,518) rotate(-90)" font-size="8.5" fill="#333" text-anchor="middle">pH</text>
<polyline fill="none" stroke="#aaa" stroke-width="0.8" marker-start="url(#mPh)" marker-mid="url(#mPh)" marker-end="url(#mPh)" points="543,486.3 549.5,494.1 556.1,502 562.6,513.2 582.2,549 588.8,563.6 595.3,561.3 601.9,566.4 608.4,567.5 614.9,567.5 634.6,567.5 641.1,567.5 647.6,567.5 654.2,567.5 660.7,567.5 667.3,567.5 686.9,568.6 693.4,566.9"/>
<polyline fill="none" stroke="#6cc48f" stroke-width="0.8" marker-start="url(#mSq)" marker-mid="url(#mSq)" marker-end="url(#mSq)" points="543,537.8 549.5,536.1 556.1,536.1 562.6,536.1 582.2,536.7 588.8,537.8 595.3,540 601.9,541.2 608.4,543.4 614.9,545.6 634.6,562.4 641.1,562.4 647.6,563.6 654.2,563.6 660.7,562.4 667.3,562.4 686.9,569.2 693.4,573.6"/>
<polyline fill="none" stroke="#f08080" stroke-width="0.8" marker-start="url(#mIt)" marker-mid="url(#mIt)" marker-end="url(#mIt)" points="543,573.6 549.5,573.1 556.1,572.5 562.6,571.4 582.2,560.2 588.8,556.8 595.3,554.6 601.9,553.5 608.4,552.4 614.9,550.1 634.6,540 641.1,538.9 647.6,539.5 654.2,538.4 660.7,537.8 667.3,537.8 686.9,533.9 693.4,533.3"/>
<polyline fill="none" stroke="#777" stroke-width="0.8" marker-start="url(#mTri)" marker-mid="url(#mTri)" marker-end="url(#mTri)" points="543,575.7 549.5,574.4 556.1,573.6 562.6,571 582.2,561.3 588.8,553.5 595.3,545.6 601.9,539.5 608.4,533.3 614.9,526.6 634.6,509.4 641.1,505 647.6,502.6 654.2,499.3 660.7,496.4 667.3,495 686.9,486.1 693.4,484"/>
<polyline fill="none" stroke="#6f9be0" stroke-width="0.8" marker-start="url(#mCi)" marker-mid="url(#mCi)" marker-end="url(#mCi)" points="543,515.4 549.5,513.2 556.1,513.7 562.6,515.4 582.2,528.8 588.8,536.7 595.3,544.5 601.9,551.2 608.4,559.1 614.9,566.9 634.6,576.5 641.1,571.4 647.6,572.5 654.2,576.4 660.7,562.4 667.3,566.9 686.9,576.5 693.4,576.5"/>
</svg>
</body></html>
